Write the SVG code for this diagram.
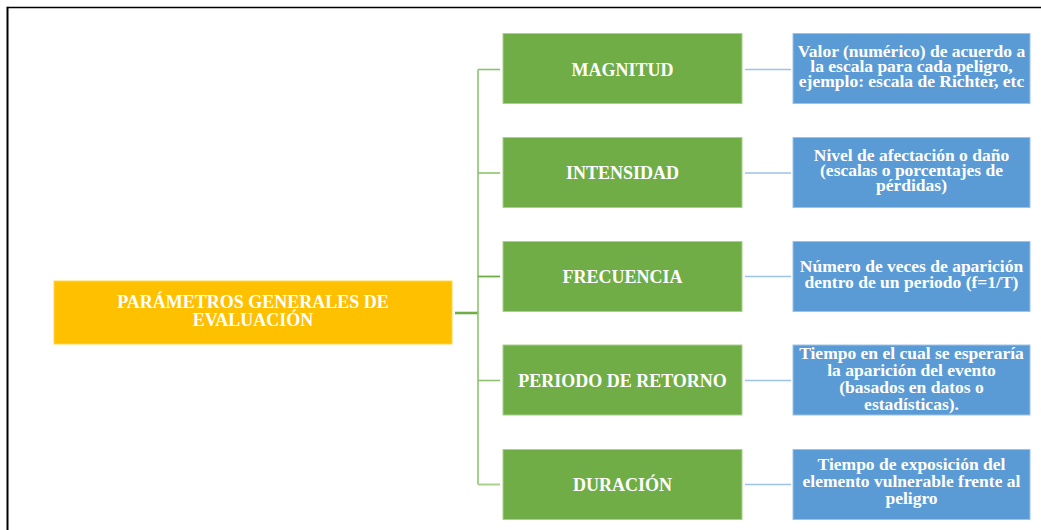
<svg xmlns="http://www.w3.org/2000/svg" width="1041" height="530" viewBox="0 0 1041 530">
<style>
.frame{stroke:#000;fill:none}
.root{fill:#FFC000;stroke:#FFD54F;stroke-width:1}
.lvl1{fill:#70AD47;stroke:#A9D18E;stroke-width:1}
.lvl2{fill:#5B9BD5;stroke:#9DC3E6;stroke-width:1}
.t{font-family:"Liberation Serif","Times New Roman",serif;font-weight:bold;fill:#fff;text-anchor:middle}
.t18{font-size:18px}
.t17{font-size:17.5px}
.tree{stroke:#8DC36C;stroke-width:1.6;fill:none}
.blue{stroke:#9DC3E6;stroke-width:1.6;fill:none}
</style>
<rect width="1041" height="530" fill="#fff"/>
<path class="frame" d="M7.5 7.5 H1041" stroke-width="1.6"/>
<path class="frame" d="M7.5 6.7 V530" stroke-width="2"/>
<g id="connectors">
<path d="M455 313 H478" stroke="#70AD47" stroke-width="2.6" fill="none"/>
<path class="tree" d="M478 69.5 V484.5"/>
<path class="tree" d="M478 69.5 H500"/>
<path class="tree" d="M478 173 H500"/>
<path d="M478 276.5 H500" stroke="#70AD47" stroke-width="1.8" fill="none"/>
<path class="tree" d="M478 380.5 H500"/>
<path d="M478 484.5 H500" stroke="#A9D18E" stroke-width="2" fill="none"/>
<path class="blue" d="M745 69.5 H791"/>
<path class="blue" d="M745 173 H791"/>
<path class="blue" d="M745 276.5 H791"/>
<path class="blue" d="M745 380.5 H791"/>
<path class="blue" d="M745 484.5 H791"/>
</g>
<g id="root">
<rect class="root" x="54" y="281" width="398" height="63"/>
<text class="t t18" x="253" y="308">PARÁMETROS GENERALES DE</text>
<text class="t t18" x="253" y="326">EVALUACIÓN</text>
</g>
<g id="magnitud">
<rect class="lvl1" x="503" y="33.5" width="239" height="70"/>
<text class="t t18" x="622.5" y="75.5">MAGNITUD</text>
</g>
<g id="intensidad">
<rect class="lvl1" x="503" y="137.5" width="239" height="70"/>
<text class="t t18" x="622.5" y="179">INTENSIDAD</text>
</g>
<g id="frecuencia">
<rect class="lvl1" x="503" y="241.5" width="239" height="70"/>
<text class="t t18" x="622.5" y="283">FRECUENCIA</text>
</g>
<g id="periodo">
<rect class="lvl1" x="503" y="345" width="239" height="70"/>
<text class="t t18" x="622.5" y="386.5">PERIODO DE RETORNO</text>
</g>
<g id="duracion">
<rect class="lvl1" x="503" y="449.5" width="239" height="70"/>
<text class="t t18" x="622.5" y="491">DURACIÓN</text>
</g>
<g id="desc-magnitud">
<rect class="lvl2" x="793" y="33.5" width="237" height="70"/>
<text class="t t17" x="911.5" y="56.7">Valor (numérico) de acuerdo a</text>
<text class="t t17" x="911.5" y="71.7">la escala para cada peligro,</text>
<text class="t t17" x="911.5" y="86.7">ejemplo: escala de Richter, etc</text>
</g>
<g id="desc-intensidad">
<rect class="lvl2" x="793" y="137.5" width="237" height="70"/>
<text class="t t17" x="911.5" y="160.7">Nivel de afectación o daño</text>
<text class="t t17" x="911.5" y="175.7">(escalas o porcentajes de</text>
<text class="t t17" x="911.5" y="190.7">pérdidas)</text>
</g>
<g id="desc-frecuencia">
<rect class="lvl2" x="793" y="241.5" width="237" height="70"/>
<text class="t t17" x="911.5" y="272.3">Número de veces de aparición</text>
<text class="t t17" x="911.5" y="288.3">dentro de un periodo (f=1/T)</text>
</g>
<g id="desc-periodo">
<rect class="lvl2" x="793" y="345" width="237" height="70"/>
<text class="t t17" x="911.5" y="359">Tiempo en el cual se esperaría</text>
<text class="t t17" x="911.5" y="376">la aparición del evento</text>
<text class="t t17" x="911.5" y="393">(basados en datos o</text>
<text class="t t17" x="911.5" y="410">estadísticas).</text>
</g>
<g id="desc-duracion">
<rect class="lvl2" x="793" y="449.5" width="237" height="70"/>
<text class="t t17" x="911.5" y="470">Tiempo de exposición del</text>
<text class="t t17" x="911.5" y="487">elemento vulnerable frente al</text>
<text class="t t17" x="911.5" y="504">peligro</text>
</g>
</svg>
